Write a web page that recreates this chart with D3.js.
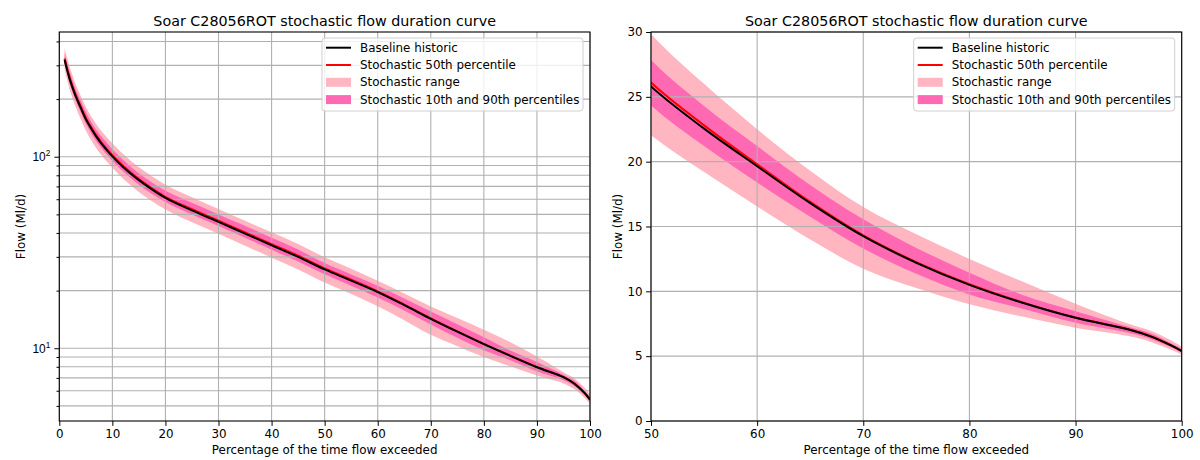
<!DOCTYPE html>
<html>
<head>
<meta charset="utf-8">
<script src="https://cdn.jsdelivr.net/npm/d3@7"></script>
<style>
  body { margin: 0; background: #fff; }
  svg { font-family: "DejaVu Sans", sans-serif; }
</style>
</head>
<body>
<div id="chart"></div>
<script>
// exceedance percentages and flows (Ml/d)
var pct = [1, 2, 3, 4, 5, 6, 7, 8, 10, 12, 15, 20, 25, 30, 35, 40, 45, 50, 55, 60, 65, 70, 75, 80, 85, 90, 95, 97, 99, 100];
var baseline = [320, 252, 210, 181, 157, 140.5, 127, 116.5, 100.5, 88.5, 75.5, 61, 52.5, 45.7, 39.7, 34.5, 30, 25.8, 22.55, 19.65, 16.8, 14.25, 12.2, 10.5, 9.12, 7.96, 7.06, 6.55, 5.83, 5.39];
var median = [326, 256, 213, 184, 159.5, 142.5, 129, 118, 101.8, 89.8, 76.5, 61.8, 53.2, 46.3, 40.3, 35, 30.4, 26.1, 22.8, 19.8, 16.9, 14.32, 12.25, 10.55, 9.15, 7.98, 7.07, 6.56, 5.84, 5.4];
var p10 = [303, 239, 199, 171, 148.5, 132.5, 120, 110.5, 95.2, 84, 71.5, 58, 50, 43.5, 37.8, 32.7, 28.4, 24.34, 21.2, 18.4, 15.75, 13.3, 11.35, 9.76, 8.66, 7.58, 6.8, 6.35, 5.68, 5.26];
var p90 = [348, 275, 228, 197, 171, 152.5, 138, 127, 109.5, 96.5, 82, 66.5, 57.5, 50, 43.6, 37.8, 32.8, 27.84, 24.3, 21.2, 18.2, 15.55, 13.35, 11.43, 9.72, 8.47, 7.27, 6.78, 6.0, 5.57];
var rangeMin = [285, 222, 184, 158, 137, 122, 110.5, 101.5, 87.5, 77, 65.5, 53, 45.5, 39.6, 34.3, 29.7, 25.8, 22.03, 19.2, 16.55, 14.0, 11.75, 10.25, 9.0, 8.05, 7.2, 6.55, 6.12, 5.5, 5.13];
var rangeMax = [368, 292, 243, 209, 182, 162.5, 147.5, 135.5, 117.5, 103.5, 88, 71.5, 61.5, 53.3, 46.3, 40.3, 35, 29.85, 26.0, 22.5, 19.3, 16.5, 14.4, 12.5, 10.75, 9.05, 7.5, 6.98, 6.22, 5.72];

var logMajor = [10, 100];
var logMinor = [5, 6, 7, 8, 9, 20, 30, 40, 50, 60, 70, 80, 90, 200, 300, 400];
var linTicks = [0, 5, 10, 15, 20, 25, 30];

var titleText = "Soar C28056ROT stochastic flow duration curve";
var legendItems = [
  { label: "Baseline historic", type: "line", color: "#000000" },
  { label: "Stochastic 50th percentile", type: "line", color: "#ff0000" },
  { label: "Stochastic range", type: "patch", color: "#ffb6c1" },
  { label: "Stochastic 10th and 90th percentiles", type: "patch", color: "#ff69b4" }
];

var rows = pct.map(function(p, i) {
  return { p: p, base: baseline[i], med: median[i], lo: p10[i], hi: p90[i], min: rangeMin[i], max: rangeMax[i] };
});

var svg = d3.select("#chart").append("svg")
  .attr("width", 1200)
  .attr("height", 460);

var plotTop = 32, plotBottom = 421;
var gridColor = "#b0b0b0";
var fs = "11.9px";

var panels = [
  { id: "a", left: 59.3, right: 590, xDomain: [0, 100], xTicks: d3.range(0, 101, 10), log: true, ylabOff: 34.3 },
  { id: "b", left: 651, right: 1181.7, xDomain: [50, 100], xTicks: d3.range(50, 101, 10), log: false, ylabOff: 29.3 }
];

panels.forEach(function(pn) {
  var x = d3.scaleLinear().domain(pn.xDomain).range([pn.left, pn.right]);
  var y = pn.log
    ? d3.scaleLog().domain([4.17, 448]).range([plotBottom, plotTop])
    : d3.scaleLinear().domain([0, 30]).range([plotBottom, plotTop]);

  var g = svg.append("g");

  g.append("clipPath").attr("id", "clip-" + pn.id)
    .append("rect")
    .attr("x", pn.left).attr("y", plotTop)
    .attr("width", pn.right - pn.left).attr("height", plotBottom - plotTop);

  var plot = g.append("g").attr("clip-path", "url(#clip-" + pn.id + ")");

  // bands first, then grid, then lines (matplotlib zorder)
  var area = function(lo, hi) {
    return d3.area().x(d => x(d.p)).y0(d => y(d[lo])).y1(d => y(d[hi])).curve(d3.curveCatmullRom.alpha(0.5));
  };
  plot.append("path").datum(rows).attr("d", area("min", "max")).attr("fill", "#ffb6c1");
  plot.append("path").datum(rows).attr("d", area("lo", "hi")).attr("fill", "#ff69b4");

  // grid
  var yGrid = pn.log ? logMajor.concat(logMinor) : linTicks;
  g.selectAll(".vgrid").data(pn.xTicks).enter().append("line")
    .attr("x1", d => x(d)).attr("x2", d => x(d))
    .attr("y1", plotTop).attr("y2", plotBottom)
    .attr("stroke", gridColor).attr("stroke-width", 1.1);
  g.selectAll(".hgrid").data(yGrid).enter().append("line")
    .attr("x1", pn.left).attr("x2", pn.right)
    .attr("y1", d => y(d)).attr("y2", d => y(d))
    .attr("stroke", gridColor).attr("stroke-width", 1.1);

  var line = function(key) {
    return d3.line().x(d => x(d.p)).y(d => y(d[key])).curve(d3.curveCatmullRom.alpha(0.5));
  };
  var lines = g.append("g").attr("clip-path", "url(#clip-" + pn.id + ")");
  lines.append("path").datum(rows).attr("d", line("med"))
    .attr("fill", "none").attr("stroke", "#ff0000").attr("stroke-width", 2);
  lines.append("path").datum(rows).attr("d", line("base"))
    .attr("fill", "none").attr("stroke", "#000000").attr("stroke-width", 2);

  // frame
  g.append("rect")
    .attr("x", pn.left).attr("y", plotTop)
    .attr("width", pn.right - pn.left).attr("height", plotBottom - plotTop)
    .attr("fill", "none").attr("stroke", "#000").attr("stroke-width", 1.1);

  // x axis
  var xAxis = g.append("g").attr("transform", "translate(0," + plotBottom + ")")
    .call(d3.axisBottom(x).tickValues(pn.xTicks).tickSize(4.9).tickPadding(3.5).tickFormat(d3.format("d")));
  xAxis.select(".domain").remove();
  xAxis.selectAll("text").attr("font-size", fs).attr("fill", "#000")
    .attr("font-family", "DejaVu Sans");

  // y axis
  var yAxis = g.append("g").attr("transform", "translate(" + pn.left + ",0)");
  if (pn.log) {
    yAxis.call(d3.axisLeft(y).tickValues(logMajor).tickSize(4.9).tickPadding(3.5).tickFormat(""));
    yAxis.select(".domain").remove();
    yAxis.selectAll(".tick").each(function(d) {
      var t = d3.select(this).append("text")
        .attr("x", -9).attr("dy", "0.32em")
        .attr("text-anchor", "end").attr("font-size", fs).attr("fill", "#000");
      t.append("tspan").text("10");
      t.append("tspan").text(Math.round(Math.log10(d)))
        .attr("font-size", "8.3px").attr("dy", "-0.6em");
    });
    var minG = g.append("g").attr("transform", "translate(" + pn.left + ",0)")
      .call(d3.axisLeft(y).tickValues(logMinor).tickSize(2.8).tickFormat(""));
    minG.select(".domain").remove();
  } else {
    yAxis.call(d3.axisLeft(y).tickValues(linTicks).tickSize(4.9).tickPadding(3.5).tickFormat(d3.format("d")));
    yAxis.select(".domain").remove();
    yAxis.selectAll("text").attr("font-size", fs).attr("fill", "#000")
      .attr("font-family", "DejaVu Sans");
  }

  // labels
  var cx = (pn.left + pn.right) / 2;
  g.append("text").attr("x", cx).attr("y", 25.5)
    .attr("text-anchor", "middle").attr("font-size", "14.3px").text(titleText);
  g.append("text").attr("x", cx).attr("y", 454)
    .attr("text-anchor", "middle").attr("font-size", fs).text("Percentage of the time flow exceeded");
  g.append("text")
    .attr("transform", "translate(" + (pn.left - pn.ylabOff) + "," + ((plotTop + plotBottom) / 2) + ") rotate(-90)")
    .attr("text-anchor", "middle").attr("font-size", fs).text("Flow (Ml/d)");

  // legend
  var lw = 261, lh = 73;
  var lx = pn.right - 7 - lw, ly = plotTop + 6;
  var leg = g.append("g").attr("transform", "translate(" + lx + "," + ly + ")");
  leg.append("rect").attr("width", lw).attr("height", lh).attr("rx", 3)
    .attr("fill", "#fff").attr("fill-opacity", 0.8)
    .attr("stroke", "#d0d0d0").attr("stroke-width", 1);
  legendItems.forEach(function(it, i) {
    var cy = 9.7 + i * 17.3;
    if (it.type === "line") {
      leg.append("line").attr("x1", 4).attr("x2", 29).attr("y1", cy).attr("y2", cy)
        .attr("stroke", it.color).attr("stroke-width", 2);
    } else {
      leg.append("rect").attr("x", 4).attr("y", cy - 4.5).attr("width", 25).attr("height", 9)
        .attr("fill", it.color);
    }
    leg.append("text").attr("x", 38).attr("y", cy).attr("dy", "0.35em")
      .attr("font-size", fs).text(it.label);
  });
});
</script>
</body>
</html>
